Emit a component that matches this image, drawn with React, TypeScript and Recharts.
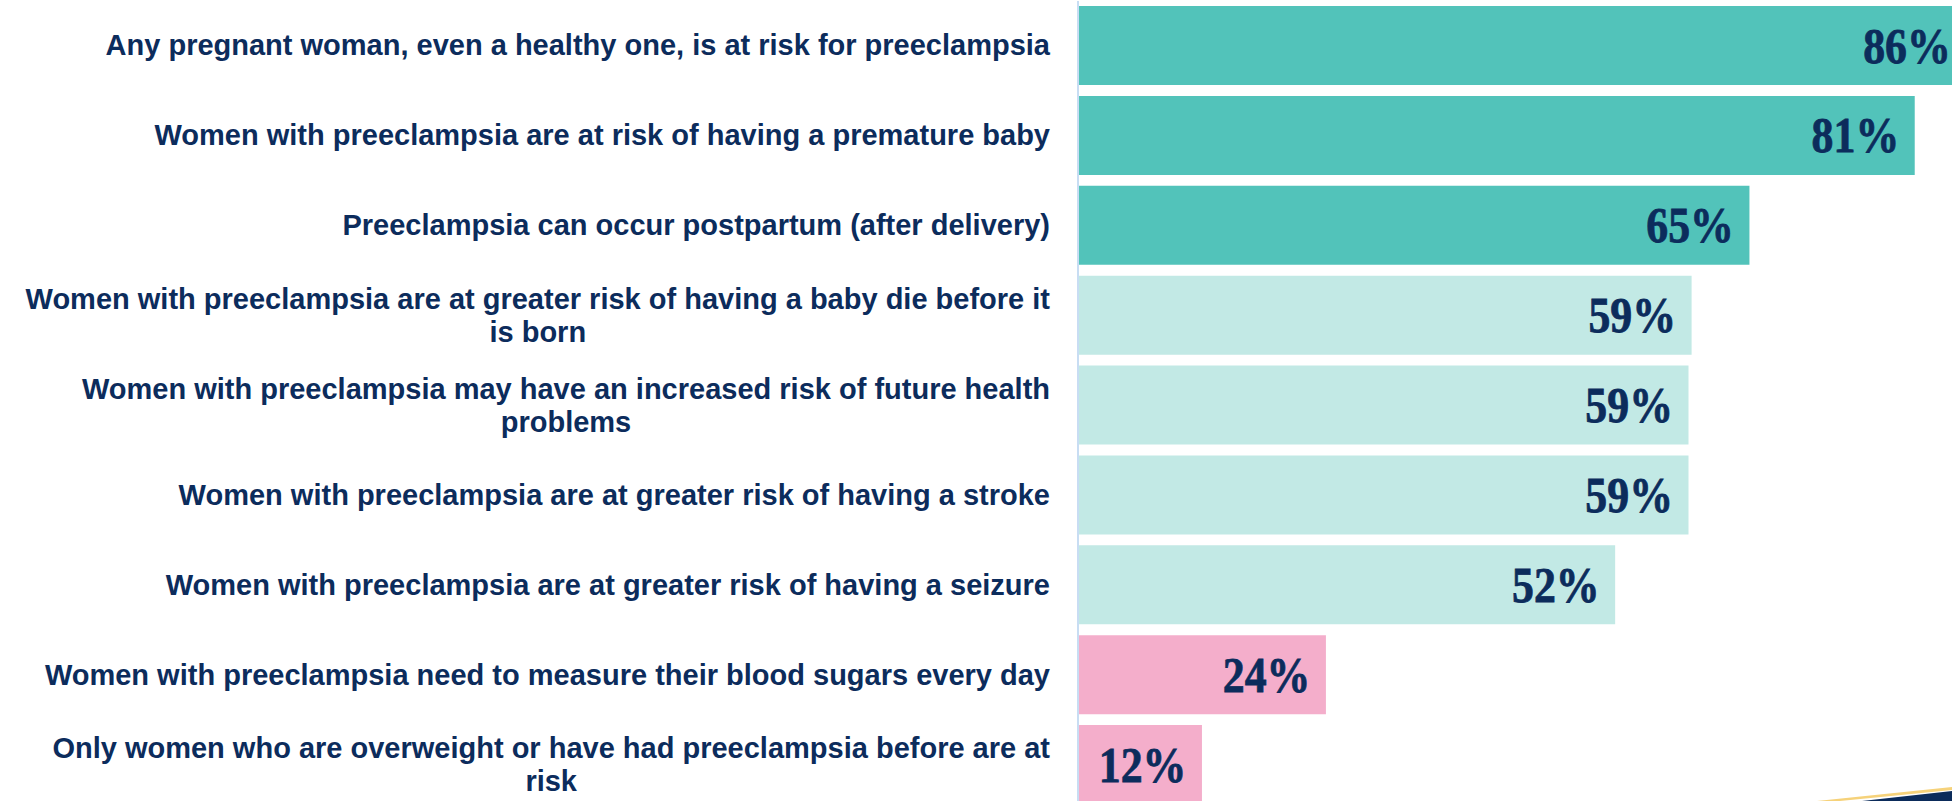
import React from "react";
import { BarChart, Bar, XAxis, YAxis, LabelList, Cell } from "recharts";

const statements: string[] = [
  "Any pregnant woman, even a healthy one, is at risk for preeclampsia",
  "Women with preeclampsia are at risk of having a premature baby",
  "Preeclampsia can occur postpartum (after delivery)",
  "Women with preeclampsia are at greater risk of having a baby die before it is born",
  "Women with preeclampsia may have an increased risk of future health problems",
  "Women with preeclampsia are at greater risk of having a stroke",
  "Women with preeclampsia are at greater risk of having a seizure",
  "Women with preeclampsia need to measure their blood sugars every day",
  "Only women who are overweight or have had preeclampsia before are at risk",
];

const percentCorrect: number[] = [86, 81, 65, 59.4, 59.1, 59.1, 52, 24, 12];

const data = statements.map((name, i) => ({ name, value: percentCorrect[i] }));

const NAVY = "#0C2C5C";
const TEAL = "#52C3BA";
const LIGHT = "#C2E9E5";
const PINK = "#F4AECB";

const TICK_FONT_SIZE = 29;
const TICK_FONT = `bold ${TICK_FONT_SIZE}px "Liberation Sans", Arial, sans-serif`;
const MAX_LINE = 1046;
const LINE_H = 33;

let ctx: CanvasRenderingContext2D | null = null;
function measure(s: string): number {
  if (!ctx && typeof document !== "undefined") {
    const c = document.createElement("canvas");
    ctx = c.getContext("2d");
  }
  if (ctx) {
    ctx.font = TICK_FONT;
    return ctx.measureText(s).width;
  }
  return s.length * TICK_FONT_SIZE * 0.55;
}

function wrap(s: string): string[] {
  const words = s.split(" ");
  const lines: string[] = [];
  let cur = "";
  for (const w of words) {
    const t = cur ? cur + " " + w : w;
    if (measure(t) > MAX_LINE && cur) {
      lines.push(cur);
      cur = w;
    } else {
      cur = t;
    }
  }
  if (cur) lines.push(cur);
  return lines;
}

const colorFor = (v: number) => (v >= 60 ? TEAL : v >= 50 ? LIGHT : PINK);

const Tick = (props: any) => {
  const { x, y, payload } = props;
  const lines = wrap(String(payload.value));
  const right = x - 20;
  const maxW = Math.max(...lines.map(measure));
  const cx = right - maxW / 2;
  const n = lines.length;
  return (
    <g>
      {lines.map((ln, k) => (
        <text
          key={k}
          x={n === 1 ? right : cx}
          y={y + 9.5 + (k - (n - 1) / 2) * LINE_H}
          textAnchor={n === 1 ? "end" : "middle"}
          fill={NAVY}
          style={{ font: TICK_FONT }}
        >
          {ln}
        </text>
      ))}
    </g>
  );
};

const ValueLabel = (props: any) => {
  const { x, y, width, height, value } = props;
  const tx = x + width - 15.5;
  const ty = y + height / 2 + 17;
  return (
    <g transform={`translate(${tx},${ty}) scale(0.86,1)`}>
      <text
        x={0}
        y={0}
        textAnchor="end"
        fill={NAVY}
        stroke={NAVY}
        strokeWidth={0.8}
        fontFamily='"Liberation Serif", "Times New Roman", serif'
        fontWeight="bold"
        fontSize={51}
      >
        {`${Math.round(Number(value))}%`}
      </text>
    </g>
  );
};

export default function App() {
  return (
    <div
      style={{
        position: "fixed",
        left: 0,
        top: 0,
        width: 1952,
        height: 801,
        overflow: "hidden",
        background: "#fff",
      }}
    >
      <BarChart
        layout="vertical"
        width={2111}
        height={810}
        data={data}
        margin={{ top: 1, right: 0, bottom: 0, left: 0 }}
        barSize={79}
      >
        <XAxis type="number" domain={[0, 100]} hide />
        <YAxis
          type="category"
          dataKey="name"
          width={1078}
          axisLine={{ stroke: "#C8DDF3", strokeWidth: 2 }}
          tickLine={false}
          tick={<Tick />}
          interval={0}
        />
        <Bar dataKey="value" isAnimationActive={false}>
          {data.map((d, i) => (
            <Cell key={i} fill={colorFor(d.value)} />
          ))}
          <LabelList dataKey="value" content={<ValueLabel />} />
        </Bar>
      </BarChart>
      <svg
        width={1952}
        height={801}
        style={{ position: "absolute", left: 0, top: 0, pointerEvents: "none" }}
      >
        <polygon points="1817,801 1952,787 1952,790 1840,801" fill="#F6D27A" />
        <polygon points="1862,801 1952,791 1952,801" fill="#0B2B5A" />
      </svg>
    </div>
  );
}
